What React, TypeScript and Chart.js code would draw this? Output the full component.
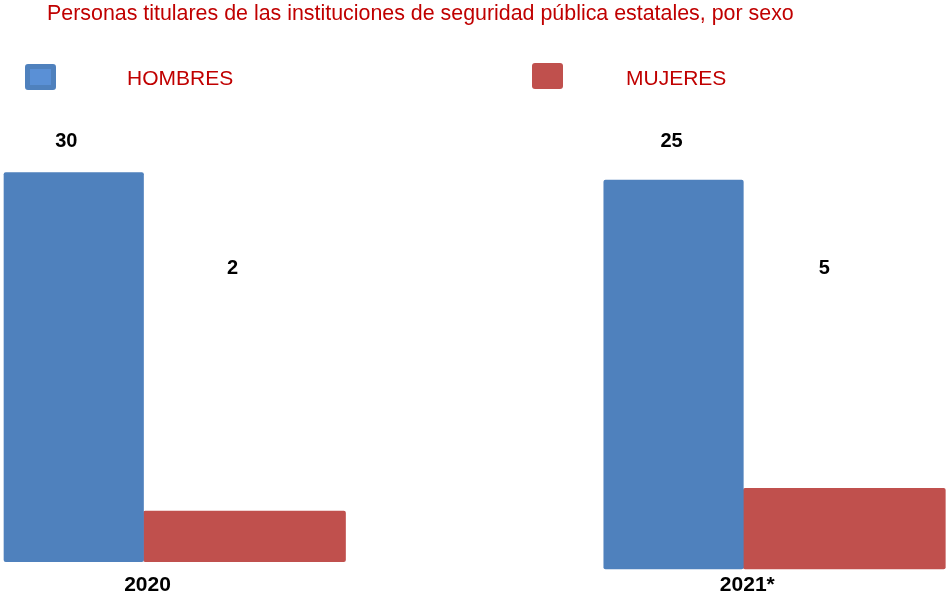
import React, { useEffect, useRef } from "react";
import { Chart, registerables } from "chart.js";

Chart.register(...registerables);

const TITLE = "Personas titulares de las instituciones de seguridad pública estatales, por sexo";
const categories = ["2020", "2021*"];
const seriesNames = ["HOMBRES", "MUJERES"];
const hombres = [30, 25];
const mujeres = [2, 5];
// value-axis range of each year group (the reference scales each group on its own)
const axisMin = [-2.8, -0.23];
const axisMax = [36, 30.2];
const barBase = [-2.2, -0.23];

const FONT = "'Liberation Sans', Arial, Helvetica, sans-serif";
const BLUE = "#4F81BD";
const RED = "#C0504D";
const TEXT_RED = "#C00000";

// horizontal label shift per [year][series], vertical label offset per series from chart top
const LABEL_DX = [
  [-7.5, -12],
  [-2, -20],
];
const LABEL_DY = [41, 168];

export default function App() {
  const canvasRef = useRef<HTMLCanvasElement | null>(null);

  useEffect(() => {
    document.body.style.margin = "0";
    const canvas = canvasRef.current;
    if (!canvas) return;

    const seriesData = [hombres, mujeres];
    const colors = [BLUE, RED];
    const thickness = [139.5, 202];
    const datasets: any[] = [];
    categories.forEach((cat, i) => {
      seriesData.forEach((series, s) => {
        datasets.push({
          label: `${seriesNames[s]} ${cat}`,
          data: categories.map((_, j) => (j === i ? series[i] : null)),
          yAxisID: i === 0 ? "y" : "y2",
          backgroundColor: colors[s],
          borderWidth: 0,
          borderRadius: 2,
          borderSkipped: false,
          barThickness: thickness[s],
          base: barBase[i],
          skipNull: true,
          clip: false,
          _year: i,
          _series: s,
        });
      });
    });

    const labelPlugin = {
      id: "valueLabels",
      afterDatasetsDraw(chart: any) {
        const ctx = chart.ctx;
        ctx.save();
        ctx.font = `bold 20px ${FONT}`;
        ctx.fillStyle = "#000000";
        ctx.textAlign = "center";
        ctx.textBaseline = "middle";
        chart.data.datasets.forEach((ds: any, di: number) => {
          const meta = chart.getDatasetMeta(di);
          meta.data.forEach((el: any, idx: number) => {
            const v = ds.data[idx];
            if (v === null || v === undefined) return;
            const x = el.x + LABEL_DX[ds._year][ds._series];
            const y = chart.chartArea.top + LABEL_DY[ds._series];
            ctx.fillText(String(v), x, y);
          });
        });
        ctx.restore();
      },
    };

    const chart = new Chart(canvas, {
      type: "bar",
      data: { labels: categories, datasets },
      options: {
        animation: false,
        responsive: false,
        maintainAspectRatio: false,
        layout: { padding: { left: 143.5, right: 203.7, top: 100, bottom: -6 } },
        plugins: {
          legend: { display: false },
          title: { display: false },
          tooltip: { enabled: false },
        },
        scales: {
          x: {
            type: "category",
            offset: false,
            grid: { display: false, drawTicks: false },
            border: { display: false },
            ticks: {
              color: "#000000",
              font: { family: FONT, size: 21, weight: "bold", lineHeight: 1 },
              padding: 6,
              maxRotation: 0,
              autoSkip: false,
              labelOffset: 4,
            },
          },
          y: { display: false, min: axisMin[0], max: axisMax[0] },
          y2: { display: false, position: "right", min: axisMin[1], max: axisMax[1] },
        },
      } as any,
      plugins: [labelPlugin],
    });
    return () => chart.destroy();
  }, []);

  const titleFs = 21.4;
  const legFs = 21;
  const asc = 0.8465;
  return (
    <div style={{ position: "relative", width: 947, height: 596, overflow: "hidden", background: "#ffffff" }}>
      <canvas ref={canvasRef} width={947} height={596} style={{ position: "absolute", left: 0, top: 0, width: 947, height: 596 }} />
      <div
        style={{
          position: "absolute",
          left: 47,
          top: 20.7 - asc * titleFs,
          fontFamily: FONT,
          fontSize: titleFs,
          lineHeight: 1,
          color: TEXT_RED,
          whiteSpace: "nowrap",
        }}
      >
        {TITLE}
      </div>
      <div
        style={{
          position: "absolute",
          left: 25,
          top: 64,
          width: 31,
          height: 26,
          boxSizing: "border-box",
          borderRadius: 3,
          background: "#5A90D6",
          border: `5px solid ${BLUE}`,
        }}
      />
      <div
        style={{
          position: "absolute",
          left: 127,
          top: 84.3 - asc * legFs,
          fontFamily: FONT,
          fontSize: legFs,
          lineHeight: 1,
          color: TEXT_RED,
          whiteSpace: "nowrap",
        }}
      >
        {seriesNames[0]}
      </div>
      <div
        style={{
          position: "absolute",
          left: 532,
          top: 63,
          width: 31,
          height: 26,
          borderRadius: 3,
          background: RED,
        }}
      />
      <div
        style={{
          position: "absolute",
          left: 626,
          top: 84.3 - asc * legFs,
          fontFamily: FONT,
          fontSize: legFs,
          lineHeight: 1,
          color: TEXT_RED,
          whiteSpace: "nowrap",
        }}
      >
        {seriesNames[1]}
      </div>
    </div>
  );
}
